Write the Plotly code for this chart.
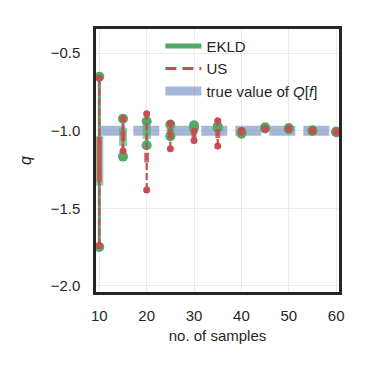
import plotly.graph_objects as go

# ---------------- data ----------------
n_samples = [10, 15, 20, 25, 30, 35, 40, 45, 50, 55, 60]
true_value = -1.0

ekld_min = [-1.750, -1.167, -1.094, -1.035, -0.980, -0.982, -1.020, -0.986, -0.990, -1.002, -1.010]
ekld_q1  = [-1.354, -1.099, -1.054, -1.030, -0.975, -0.980, -1.016, -0.984, -0.988, -1.000, -1.008]
ekld_q3  = [-1.035, -0.982, -0.959, -0.965, -0.968, -0.975, -1.010, -0.980, -0.984, -0.998, -1.006]
ekld_max = [-0.652, -0.922, -0.939, -0.960, -0.965, -0.972, -1.008, -0.978, -0.982, -0.997, -1.005]

us_min = [-1.740, -1.131, -1.382, -1.116, -1.063, -1.099, -1.008, -0.992, -0.990, -1.002, -1.010]
us_q1  = [-1.330, -1.067, -1.205, -1.054, -1.048, -1.048, -1.005, -0.990, -0.988, -1.000, -1.008]
us_q3  = [-1.040, -1.003, -1.142, -0.990, -1.010, -0.990, -1.000, -0.988, -0.986, -0.998, -1.006]
us_max = [-0.660, -0.922, -0.890, -0.954, -1.003, -0.935, -0.998, -0.986, -0.984, -0.996, -1.005]

y_ticks = [-2.0, -1.5, -1.0, -0.5]
y_tick_labels = ["\u22122.0", "\u22121.5", "\u22121.0", "\u22120.5"]
x_ticks = [10, 20, 30, 40, 50, 60]

GREEN = "#55A868"
RED = "#C44E52"
BLUE_A = "rgba(76,114,176,0.5)"
GREEN_A = "rgba(85,168,104,0.6)"
RED_A = "rgba(196,78,82,0.8)"


def segs(xs, lo, hi):
    X, Y = [], []
    for x, a, b in zip(xs, lo, hi):
        X += [x, x, None]
        Y += [a, b, None]
    return X, Y


fig = go.Figure()

# true value
fig.add_trace(go.Scatter(
    x=[n_samples[0], n_samples[-1]], y=[true_value, true_value], mode="lines",
    line=dict(color=BLUE_A, width=10, dash="26px,8px"), showlegend=False, hoverinfo="skip"))

# EKLD
X, Y = segs(n_samples, ekld_min, ekld_max)
fig.add_trace(go.Scatter(x=X, y=Y, mode="lines", line=dict(color=GREEN, width=3), showlegend=False))
X, Y = segs(n_samples, ekld_q1, ekld_q3)
fig.add_trace(go.Scatter(x=X, y=Y, mode="lines", line=dict(color=GREEN_A, width=8), showlegend=False))
fig.add_trace(go.Scatter(x=n_samples + n_samples, y=ekld_min + ekld_max, mode="markers",
                         marker=dict(color=GREEN, size=10), showlegend=False))

# US
X, Y = segs(n_samples, us_min, us_max)
fig.add_trace(go.Scatter(x=X, y=Y, mode="lines", line=dict(color=RED, width=2.2, dash="7px,3px"), showlegend=False))
X, Y = segs(n_samples, us_q1, us_q3)
fig.add_trace(go.Scatter(x=X, y=Y, mode="lines", line=dict(color=RED_A, width=5), showlegend=False))
fig.add_trace(go.Scatter(x=n_samples + n_samples, y=us_min + us_max, mode="markers",
                         marker=dict(color=RED, size=7), showlegend=False))

# legend entries
fig.add_trace(go.Scatter(x=[None], y=[None], mode="lines", name="EKLD",
                         line=dict(color=GREEN, width=5), legendgroup="a"))
fig.add_trace(go.Scatter(x=[None], y=[None], mode="lines", name="US",
                         line=dict(color=RED, width=3, dash="11px,6px"), legendgroup="b"))
fig.add_trace(go.Scatter(x=[None], y=[None], mode="lines", name="true value of <i>Q</i>[<i>f</i>]",
                         line=dict(color=BLUE_A, width=9), legendgroup="c"))

FONT = "Liberation Sans, Arial, sans-serif"
fig.update_layout(
    width=373, height=373,
    margin=dict(l=88, r=42, t=21, b=89),
    paper_bgcolor="white", plot_bgcolor="white",
    font=dict(family=FONT, size=15, color="#262626"),
    legend=dict(x=0.265, y=0.997, xanchor="left", yanchor="top", bgcolor="rgba(0,0,0,0)",
                font=dict(size=15), tracegroupgap=0, itemwidth=36),
    xaxis=dict(range=[9.3, 60.6], tickvals=x_ticks, showgrid=True, gridcolor="#ebebeb", gridwidth=1.2,
               zeroline=False, showline=True, mirror=True, linecolor="#262626", linewidth=2.5,
               ticks="outside", ticklen=8, tickcolor="rgba(0,0,0,0)",
               title=dict(text="no. of samples", font=dict(size=15), standoff=8)),
    yaxis=dict(range=[-2.04, -0.344], tickvals=y_ticks, ticktext=y_tick_labels, showgrid=True,
               gridcolor="#ebebeb", gridwidth=1.2, zeroline=False, showline=True, mirror=True,
               linecolor="#262626", linewidth=2.5, ticks="outside", ticklen=10,
               tickcolor="rgba(0,0,0,0)",
               title=dict(text="<i>q</i>", font=dict(size=16), standoff=16)),
)

fig.write_html("out.html")
